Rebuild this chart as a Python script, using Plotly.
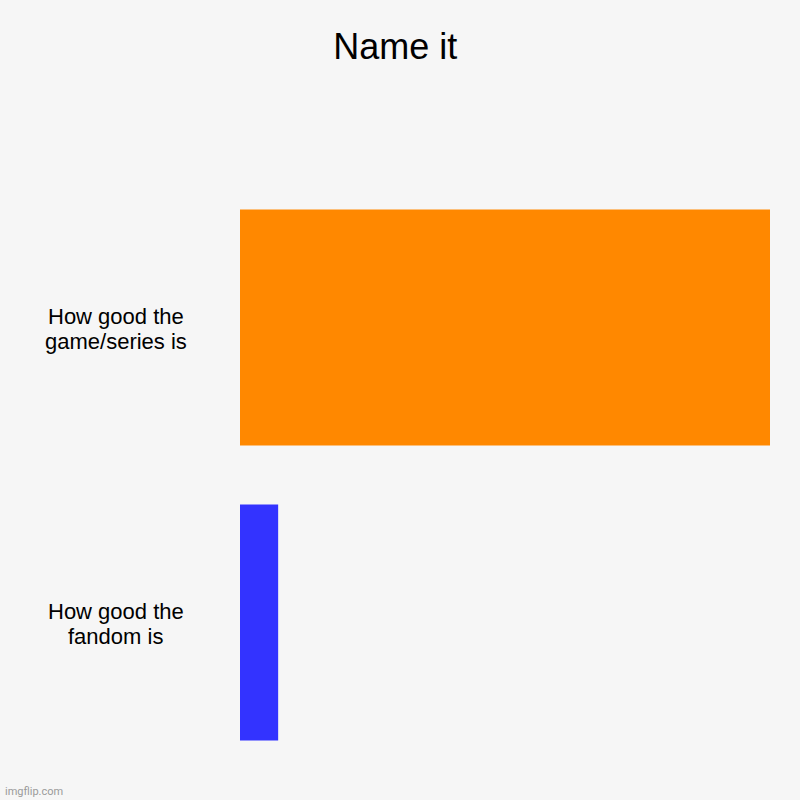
import plotly.graph_objects as go

# chart data
categories = ["How good the<br>game/series is", "How good the<br>fandom is"]
values = [100, 7.2]
colors = ["#ff8800", "#3333ff"]

fig = go.Figure()
fig.add_trace(go.Bar(
    x=values,
    y=categories,
    orientation='h',
    marker=dict(color=colors, line=dict(width=0)),
    hoverinfo='skip'
))

# category labels, centered to the left of the bars, one annotation per line
for c in categories:
    lines = c.split('<br>')
    for i, ln in enumerate(lines):
        fig.add_annotation(
            x=-0.234, y=c, xref='paper', yref='y',
            text=ln, showarrow=False, xanchor='center', yanchor='middle',
            yshift=11 - 25 * i,
            font=dict(size=22, color='#000000', family='Arial, Liberation Sans')
        )

fig.add_annotation(
    x=-0.447, y=-0.0356, xref='paper', yref='paper',
    text='imgflip.com', showarrow=False, xanchor='left', yanchor='middle',
    font=dict(size=11, color='#9a9a9a', family='Roboto, Arial')
)

fig.update_layout(
    width=800, height=800,
    paper_bgcolor='#f6f6f6', plot_bgcolor='#f6f6f6',
    margin=dict(l=240, r=30, t=180, b=30),
    title=dict(text='Name it', x=0.494, xanchor='center', y=0.942, yanchor='middle',
               font=dict(size=36, color='#000000', family='Arial, Liberation Sans')),
    bargap=0.2,
    showlegend=False,
    xaxis=dict(range=[0, 100], visible=False, showgrid=False, zeroline=False),
    yaxis=dict(autorange='reversed', showticklabels=False, showgrid=False,
               zeroline=False, ticks=''),
)

fig.write_html("out.html", config={'displayModeBar': False},
               post_script="document.body.style.margin='0';")
